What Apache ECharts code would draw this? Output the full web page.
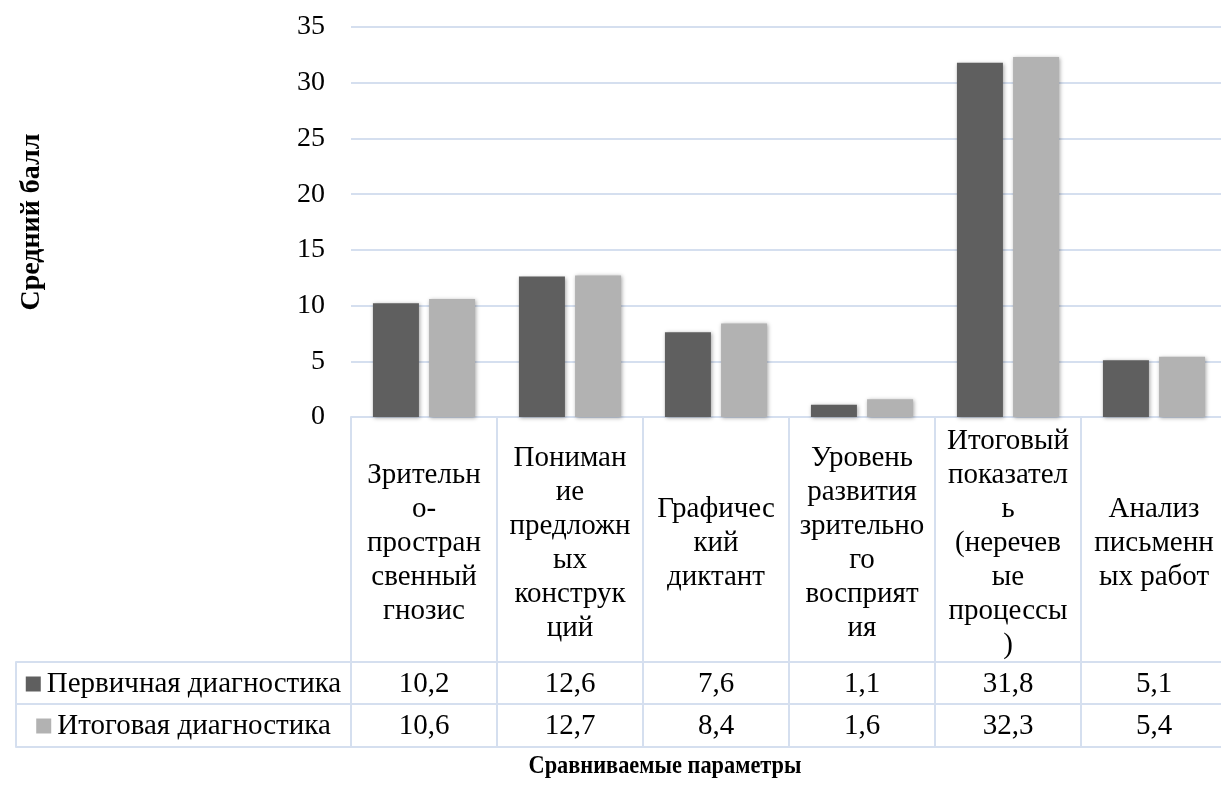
<!DOCTYPE html>
<html>
<head>
<meta charset="utf-8">
<script src="https://cdn.jsdelivr.net/npm/echarts@6/dist/echarts.min.js"></script>
<style>
html,body{margin:0;padding:0;background:#fff;}
#chart{width:1221px;height:785px;}
</style>
</head>
<body>
<div id="chart"></div>
<script>
// ---- data ----
var categories = [
  'Зрительно-пространсвенный гнозис',
  'Понимание предложных конструкций',
  'Графический диктант',
  'Уровень развития зрительного восприятия',
  'Итоговый показатель (неречевые процессы)',
  'Анализ письменных работ'
];
var categoryLabels = [
  'Зрительн\nо-\nпростран\nсвенный\nгнозис',
  'Пониман\nие\nпредложн\nых\nконструк\nций',
  'Графичес\nкий\nдиктант',
  'Уровень\nразвития\nзрительно\nго\nвосприят\nия',
  'Итоговый\nпоказател\nь\n(неречев\nые\nпроцессы\n)',
  'Анализ\nписьменн\nых работ'
];
var seriesNames = ['Первичная диагностика', 'Итоговая диагностика'];
var primaryValues = [10.2, 12.6, 7.6, 1.1, 31.8, 5.1];
var finalValues = [10.6, 12.7, 8.4, 1.6, 32.3, 5.4];
var yTicks = [0, 5, 10, 15, 20, 25, 30, 35];
var yTitle = 'Средний балл';
var xTitle = 'Сравниваемые параметры';

// ---- styles ----
var FONT = '"Liberation Serif", "Times New Roman", serif';
var GRIDC = '#d5dfef';
var colors = ['#5f5f5f', '#b2b2b2'];
function fmt(v) { return v.toFixed(1).replace('.', ','); }

var chart = echarts.init(document.getElementById('chart'), null, {renderer: 'canvas'});

var baseText = {fontFamily: FONT, fontSize: 29, color: '#000'};

function tableAxis(gridIndex, data, offset, tickLen, labelOpt) {
  return {
    type: 'category', gridIndex: gridIndex, position: 'bottom', offset: offset,
    data: data,
    axisLine: {show: true, onZero: false, lineStyle: {color: GRIDC, width: 2}},
    axisTick: {show: tickLen > 0, length: tickLen, interval: 0, alignWithLabel: false,
               lineStyle: {color: GRIDC, width: 2}},
    axisLabel: labelOpt ? Object.assign({show: true, interval: 0}, labelOpt) : {show: false},
    splitLine: {show: false}
  };
}

function legendLabel(color) {
  return Object.assign({}, baseText, {
    margin: 22, verticalAlign: 'middle',
    formatter: function (v) { return '{m|}{t|' + v + '}'; },
    rich: {
      m: {width: 15, height: 15, backgroundColor: color},
      t: {fontFamily: FONT, fontSize: 29, color: '#000', padding: [0, 0, 0, 6]}
    }
  });
}

var option = {
  backgroundColor: '#fff',
  animation: false,
  grid: [
    {left: 351, top: 27, width: 876, height: 390, outerBoundsMode: 'none', containLabel: false},
    {left: 16, top: 27, width: 335, height: 390, outerBoundsMode: 'none', containLabel: false}
  ],
  xAxis: [
    // header row with category names
    tableAxis(0, categoryLabels, 0, 245, Object.assign({}, baseText, {
      margin: 126, verticalAlign: 'middle', align: 'center', lineHeight: 34
    })),
    // row 1 values
    tableAxis(0, primaryValues.map(fmt), 245, 42, Object.assign({}, baseText, {
      margin: 22, verticalAlign: 'middle'
    })),
    // row 2 values
    tableAxis(0, finalValues.map(fmt), 287, 43, Object.assign({}, baseText, {
      margin: 22, verticalAlign: 'middle'
    })),
    // bottom border
    tableAxis(0, categories, 330, 0, null),
    // legend column
    tableAxis(1, [seriesNames[0]], 245, 85, legendLabel(colors[0])),
    tableAxis(1, [seriesNames[1]], 287, 0, legendLabel(colors[1])),
    tableAxis(1, [''], 330, 0, null)
  ],
  yAxis: [
    {
      type: 'value', gridIndex: 0, min: yTicks[0], max: yTicks[yTicks.length - 1], interval: 5,
      name: yTitle, nameLocation: 'middle', nameGap: 305, nameRotate: 90, nameMoveOverlap: false,
      nameTextStyle: {fontFamily: FONT, fontSize: 28, fontWeight: 'bold', color: '#000'},
      axisLine: {show: false}, axisTick: {show: false},
      axisLabel: {fontFamily: FONT, fontSize: 28, color: '#000', margin: 26},
      splitLine: {show: true, lineStyle: {color: GRIDC, width: 2}}
    },
    {type: 'value', gridIndex: 1, min: 0, max: 1, show: false}
  ],
  graphic: [
    {
      type: 'text', x: 665, y: 766, scaleX: 0.86,
      style: {text: xTitle, fontFamily: FONT, fontSize: 26, fontWeight: 'bold',
              fill: '#000', align: 'center', verticalAlign: 'middle'}
    }
  ],
  series: [
    {
      name: seriesNames[0], type: 'bar', xAxisIndex: 0, yAxisIndex: 0,
      data: primaryValues, barWidth: 46, barGap: '22%',
      itemStyle: {color: colors[0], shadowBlur: 4, shadowColor: 'rgba(0,0,0,0.35)', shadowOffsetX: 1, shadowOffsetY: 1}
    },
    {
      name: seriesNames[1], type: 'bar', xAxisIndex: 0, yAxisIndex: 0,
      data: finalValues, barWidth: 46, barGap: '22%',
      itemStyle: {color: colors[1], shadowBlur: 4, shadowColor: 'rgba(0,0,0,0.35)', shadowOffsetX: 1, shadowOffsetY: 1}
    }
  ]
};
chart.setOption(option);
</script>
</body>
</html>
